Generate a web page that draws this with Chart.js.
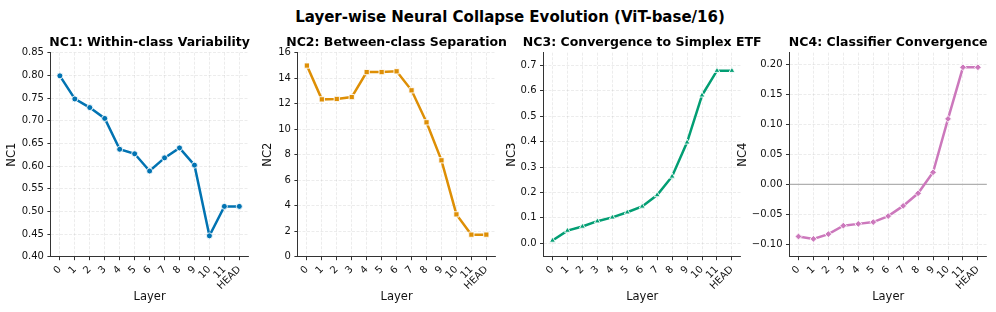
<!DOCTYPE html>
<html><head><meta charset="utf-8">
<script src="https://cdn.jsdelivr.net/npm/chart.js@4.4.1/dist/chart.umd.min.js"></script>
<style>
html,body{margin:0;padding:0;background:#fff;overflow:hidden;width:996px;height:312px;}
#wrap{position:relative;width:996px;height:312px;overflow:hidden;background:#fff;}
canvas{position:absolute;top:0;}
#suptitle{position:absolute;top:10.3px;left:0;width:1020px;text-align:center;font-family:'DejaVu Sans';font-weight:bold;font-size:15px;line-height:15px;color:#000;white-space:nowrap;}
</style></head><body>
<div id="wrap">
<div id="suptitle">Layer-wise Neural Collapse Evolution (ViT-base/16)</div>
<canvas id="c1"></canvas>
<canvas id="c2"></canvas>
<canvas id="c3"></canvas>
<canvas id="c4"></canvas>
</div>
<script>
// ---- data ----
const layers = ['0','1','2','3','4','5','6','7','8','9','10','11','HEAD'];
const nc1 = [0.799, 0.748, 0.729, 0.705, 0.637, 0.627, 0.589, 0.618, 0.640, 0.602, 0.446, 0.511, 0.511];
const nc2 = [14.99, 12.34, 12.37, 12.52, 14.48, 14.48, 14.54, 13.05, 10.54, 7.56, 3.32, 1.73, 1.73];
const nc3 = [0.011, 0.050, 0.066, 0.087, 0.102, 0.122, 0.145, 0.190, 0.263, 0.397, 0.582, 0.679, 0.679];
const nc4 = [-0.087, -0.091, -0.083, -0.069, -0.066, -0.063, -0.053, -0.036, -0.015, 0.020, 0.109, 0.195, 0.195];
const nc1Ticks = [0.40, 0.45, 0.50, 0.55, 0.60, 0.65, 0.70, 0.75, 0.80, 0.85];
const nc2Ticks = [0, 2, 4, 6, 8, 10, 12, 14, 16];
const nc3Ticks = [0.0, 0.1, 0.2, 0.3, 0.4, 0.5, 0.6, 0.7];
const nc4Ticks = [-0.10, -0.05, 0.00, 0.05, 0.10, 0.15, 0.20];
const zeroLine = [0, 0];

const FONT = 'DejaVu Sans';
const PLOT_TOP = 52.7, PLOT_BOTTOM = 256.7, PLOT_W = 197.4, H = 312, PAD_R = 50;

const panelTitlePlugin = {
  id: 'panelTitle',
  afterDraw(chart, args, opts) {
    const {ctx, chartArea} = chart;
    ctx.save();
    ctx.font = 'bold ' + opts.size + 'px "' + FONT + '"';
    ctx.fillStyle = '#000';
    ctx.textAlign = 'center';
    ctx.textBaseline = 'alphabetic';
    ctx.fillText(opts.text, (chartArea.left + chartArea.right) / 2, opts.baseline);
    ctx.restore();
  }
};

function fmt(v, dec) {
  const s = Math.abs(v).toFixed(dec);
  return (v < -1e-9 ? '\u2212' : '') + s;
}

const panels = [
  {id:'c1', title:'NC1: Within-class Variability', ylabel:'NC1', values:nc1, ticks:nc1Ticks, min:0.40, max:0.85, dec:2, color:'#0173B2', point:'circle', radius:3, plotLeft:51, yw:45.9},
  {id:'c2', title:'NC2: Between-class Separation', ylabel:'NC2', values:nc2, ticks:nc2Ticks, min:0, max:16, dec:0, color:'#DE8F05', point:'rect', radius:3.7, plotLeft:297.7, yw:36.9},
  {id:'c3', title:'NC3: Convergence to Simplex ETF', ylabel:'NC3', values:nc3, ticks:nc3Ticks, min:-0.0527, max:0.7496, dec:1, color:'#029E73', point:'triangle', radius:3.4, plotLeft:543.3, yw:38.5},
  {id:'c4', title:'NC4: Classifier Convergence', ylabel:'NC4', values:nc4, ticks:nc4Ticks, min:-0.1207, max:0.2193, dec:2, color:'#CC78BC', point:'rectRot', radius:3.4, plotLeft:789.3, yw:53.5, zero:true}
];

panels.forEach(p => {
  const cv = document.getElementById(p.id);
  const W = Math.round(p.yw + PLOT_W + PAD_R);
  cv.width = W; cv.height = H;
  cv.style.left = (p.plotLeft - p.yw) + 'px';
  cv.style.width = W + 'px'; cv.style.height = H + 'px';

  const datasets = [{
    data: p.values.map((v, i) => ({x: i, y: v})),
    borderColor: p.color,
    backgroundColor: p.color,
    borderWidth: 2.5,
    pointStyle: p.point,
    pointRadius: p.radius,
    pointBackgroundColor: p.color,
    pointBorderColor: '#ffffff',
    pointBorderWidth: 0.9,
    tension: 0,
    order: 0
  }];
  if (p.zero) {
    datasets.push({
      data: [{x: -0.6, y: zeroLine[0]}, {x: 12.6, y: zeroLine[1]}],
      borderColor: '#b0b0b0',
      borderWidth: 1.2,
      pointRadius: 0,
      order: 5
    });
  }

  new Chart(cv, {
    type: 'line',
    data: {datasets},
    plugins: [panelTitlePlugin],
    options: {
      responsive: false,
      animation: false,
      devicePixelRatio: 1,
      layout: {padding: {top: PLOT_TOP, right: W - p.yw - PLOT_W, bottom: 0, left: 0}},
      plugins: {
        legend: {display: false},
        title: {display: false},
        tooltip: {enabled: false},
        panelTitle: {text: p.title, size: 12.5, baseline: 45.8}
      },
      scales: {
        x: {
          type: 'linear', min: -0.6, max: 12.6,
          afterBuildTicks: s => { s.ticks = layers.map((_, i) => ({value: i})); },
          afterFit: s => { s.height = H - PLOT_BOTTOM; },
          ticks: {autoSkip: false, minRotation: 45, maxRotation: 45, padding: 3.5,
                  color: '#111', font: {family: FONT, size: 10},
                  callback: v => layers[v]},
          grid: {color: 'rgba(176,176,176,0.3)', lineWidth: 0.8, tickColor: '#333', tickLength: 3.5, tickWidth: 1},
          border: {display: true, color: '#333', width: 1, dash: [3, 1.5]},
          title: {display: true, text: 'Layer', color: '#111', font: {family: FONT, size: 11.5}, padding: {top: 0, bottom: 8}}
        },
        y: {
          type: 'linear', min: p.min, max: p.max,
          afterBuildTicks: s => { s.ticks = p.ticks.map(v => ({value: v})); },
          afterFit: s => { s.width = p.yw; },
          ticks: {padding: 3.5, color: '#111', font: {family: FONT, size: 10},
                  callback: v => fmt(v, p.dec)},
          grid: {color: 'rgba(176,176,176,0.3)', lineWidth: 0.8, tickColor: '#333', tickLength: 3.5, tickWidth: 1},
          border: {display: true, color: '#333', width: 1, dash: [3, 1.5]},
          title: {display: true, text: p.ylabel, color: '#111', font: {family: FONT, size: 11.5}, padding: {top: 0, bottom: 0}}
        }
      }
    }
  });
});
</script>
</body></html>
